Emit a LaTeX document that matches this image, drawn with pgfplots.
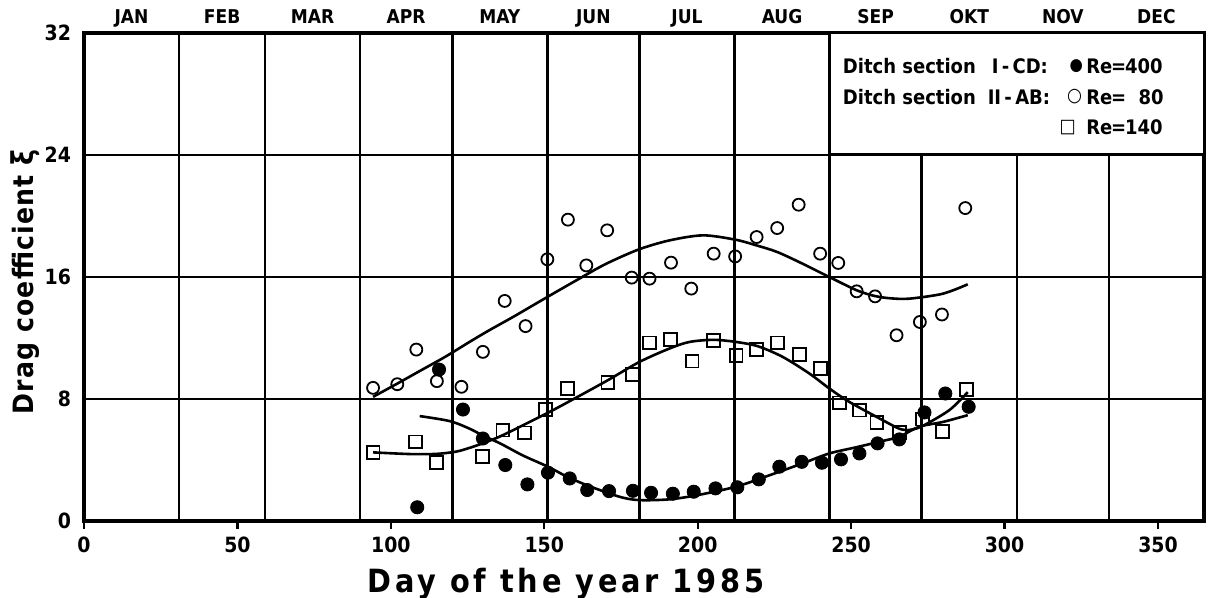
\documentclass[border=0pt]{standalone}
\usepackage{pgfplots}
\usepackage{pgfplotstable}
\pgfplotsset{compat=1.18}
\usepackage{fontspec}
\setmainfont{DejaVu Sans Condensed}[BoldFont={DejaVu Sans Condensed Bold}]

\pgfplotstableread{
x y
108.6 0.9
115.7 9.93
123.5 7.31
130.0 5.41
137.3 3.67
144.5 2.40
151.2 3.17
158.3 2.79
164.0 2.03
171.1 1.96
178.9 1.98
184.8 1.85
191.9 1.79
198.7 1.92
205.8 2.14
212.9 2.21
219.9 2.73
226.6 3.56
233.9 3.88
240.5 3.82
246.7 4.04
252.7 4.43
258.6 5.09
265.7 5.35
273.9 7.12
280.7 8.36
288.3 7.49
}\reA

\pgfplotstableread{
x y
94.2 8.73
102.1 8.97
108.3 11.24
115.0 9.17
123.0 8.80
130.0 11.09
137.1 14.43
143.9 12.78
151.0 17.16
157.7 19.76
163.7 16.76
170.5 19.06
178.5 15.96
184.3 15.89
191.3 16.94
197.9 15.24
205.2 17.53
212.2 17.35
219.2 18.62
225.9 19.21
232.9 20.74
239.9 17.53
245.8 16.92
251.8 15.06
257.8 14.73
264.8 12.18
272.4 13.05
279.6 13.54
287.2 20.52
}\reB

\pgfplotstableread{
x y
94.2 4.50
108.0 5.19
114.8 3.82
129.8 4.21
136.5 5.96
143.6 5.78
150.4 7.31
157.5 8.69
170.7 9.08
178.6 9.60
184.3 11.68
191.1 11.90
198.2 10.48
205.2 11.85
212.5 10.87
219.2 11.24
226.1 11.68
233.1 10.92
240.0 10.00
246.2 7.75
252.7 7.27
258.4 6.45
265.7 5.81
273.3 6.68
279.8 5.85
287.6 8.62
}\reC

\pgfplotstableread{
x y
94.2 8.14
102 9.0
110 9.9
118 10.8
125.7 11.75
132 12.5
140 13.4
151 14.69
161.5 15.9
170 16.85
180.7 17.8
190.8 18.4
201.7 18.73
212.2 18.45
219.2 18.07
225.9 17.64
234.2 16.87
242.9 16.0
251.8 15.13
257.8 14.75
263 14.6
269 14.58
279.8 14.9
288 15.52
}\fitB

\pgfplotstableread{
x y
94.2 4.50
106.2 4.39
114.8 4.40
121.3 4.55
125.7 4.80
130 5.10
136.5 5.63
151.2 7.10
159.3 7.97
170.7 9.23
181 10.43
190.8 11.31
197.3 11.74
205.2 11.88
212.5 11.74
219.6 11.46
227.7 10.76
236.4 9.67
242.9 8.69
249.4 7.81
260.3 6.61
265.7 6.05
268.5 5.96
}\fitCa

\pgfplotstableread{
x y
268.5 5.96
272.8 6.18
282 7.27
288 8.45
}\fitCb

\pgfplotstableread{
x y
109.4 6.88
119.2 6.55
125.7 6.05
130 5.6
135.5 5.1
143 4.3
151.2 3.56
157 2.95
163.7 2.36
174.5 1.59
181 1.37
190.8 1.42
200 1.7
212.5 2.25
222 2.9
234.2 3.78
242.9 4.43
252 4.85
261.4 5.3
265.7 5.52
272.2 6.18
280 6.5
288 6.94
}\fitA

\begin{document}
\begin{tikzpicture}
\begin{axis}[
  scale only axis, width=560pt, height=244pt,
  xmin=0, xmax=365, ymin=0, ymax=32,
  clip=false,
  xtick={0,50,...,350}, ytick={0,8,16,24,32},
  minor xtick={31,59,90,120,151,181,212,243,273,304,334},
  xminorgrids, ymajorgrids,
  minor grid style={black, line width=1.3pt},
  major grid style={black, line width=1.3pt},
  axis line style={black, line width=1.8pt},
  tick align=outside, xtick pos=bottom, ytick pos=left,
  major tick length=4pt, minor tick length=0pt,
  y tick style={draw=none}, x tick style={black, line width=1.2pt},
  /pgf/number format/assume math mode=true,
  ticklabel style={font=\bfseries\fontsize{10.5}{12}\selectfont},
  xticklabel style={yshift=-0.5pt},
  yticklabel style={xshift=1pt},
  xlabel={Day of the year 1985},
  ylabel={Drag coefficient {\fontsize{15}{16}\selectfont ξ}},
  ylabel style={font=\bfseries\fontsize{14}{16}\selectfont\addfontfeature{LetterSpace=4}, yshift=-4.5pt, xshift=-2.5pt},
  xlabel style={font=\bfseries\fontsize{16}{18}\selectfont\addfontfeature{LetterSpace=12}, xshift=-39pt, yshift=-1pt},
]
\addplot[black, line width=1.3pt, smooth] table {\fitB};
\addplot[black, line width=1.3pt, smooth] table {\fitCa};
\addplot[black, line width=1.3pt, smooth] table {\fitCb};
\addplot[black, line width=1.3pt, smooth] table {\fitA};
\addplot[only marks, mark=*, mark size=3.3pt, black, mark options={fill=black}] table {\reA};
\addplot[only marks, mark=o, mark size=3pt, black, line width=0.9pt] table {\reB};
\addplot[only marks, mark=square, mark size=3.2pt, black, line width=0.9pt] table {\reC};
% legend box
\draw[black, line width=1.5pt, fill=white] (axis cs:243,24) rectangle (axis cs:365,32);
\node[anchor=west, inner sep=0pt, font=\bfseries\fontsize{10}{12}\selectfont] at (axis cs:247.2,29.8) {Ditch section};
\node[anchor=west, inner sep=0pt, font=\bfseries\fontsize{10}{12}\selectfont] at (axis cs:295.7,29.8) {I\,-\,CD:};
\node[inner sep=0pt, font=\fontsize{8.5}{12}\selectfont] at (axis cs:323.4,29.8) {●};
\node[anchor=west, inner sep=0pt, font=\bfseries\fontsize{10}{12}\selectfont] at (axis cs:326.5,29.8) {Re\kern-0.6pt=\kern-0.6pt400};
\node[anchor=west, inner sep=0pt, font=\bfseries\fontsize{10}{12}\selectfont] at (axis cs:247.2,27.8) {Ditch section};
\node[anchor=west, inner sep=0pt, font=\bfseries\fontsize{10}{12}\selectfont] at (axis cs:294.4,27.8) {II\,-\,AB:};
\node[inner sep=0pt, font=\bfseries\fontsize{9.5}{12}\selectfont] at (axis cs:322.8,27.8) {○};
\node[anchor=west, inner sep=0pt, font=\bfseries\fontsize{10}{12}\selectfont] at (axis cs:326.5,27.8) {Re\kern-0.6pt=\ \ 80};
\node[inner sep=0pt, font=\bfseries\fontsize{9.5}{12}\selectfont] at (axis cs:320.6,25.8) {□};
\node[anchor=west, inner sep=0pt, font=\bfseries\fontsize{10}{12}\selectfont] at (axis cs:326.5,25.8) {Re\kern-0.6pt=\kern-0.6pt140};
% month labels
\node[anchor=base, font=\bfseries\fontsize{9.5}{11}\selectfont] at (axis cs:15.5,32.6) {JAN};
\node[anchor=base, font=\bfseries\fontsize{9.5}{11}\selectfont] at (axis cs:45,32.6) {FEB};
\node[anchor=base, font=\bfseries\fontsize{9.5}{11}\selectfont] at (axis cs:74.5,32.6) {MAR};
\node[anchor=base, font=\bfseries\fontsize{9.5}{11}\selectfont] at (axis cs:105,32.6) {APR};
\node[anchor=base, font=\bfseries\fontsize{9.5}{11}\selectfont] at (axis cs:135.5,32.6) {MAY};
\node[anchor=base, font=\bfseries\fontsize{9.5}{11}\selectfont] at (axis cs:166,32.6) {JUN};
\node[anchor=base, font=\bfseries\fontsize{9.5}{11}\selectfont] at (axis cs:196.5,32.6) {JUL};
\node[anchor=base, font=\bfseries\fontsize{9.5}{11}\selectfont] at (axis cs:227.5,32.6) {AUG};
\node[anchor=base, font=\bfseries\fontsize{9.5}{11}\selectfont] at (axis cs:258,32.6) {SEP};
\node[anchor=base, font=\bfseries\fontsize{9.5}{11}\selectfont] at (axis cs:288.5,32.6) {OKT};
\node[anchor=base, font=\bfseries\fontsize{9.5}{11}\selectfont] at (axis cs:319,32.6) {NOV};
\node[anchor=base, font=\bfseries\fontsize{9.5}{11}\selectfont] at (axis cs:349.5,32.6) {DEC};
\end{axis}
\pgfresetboundingbox
\path[use as bounding box] ([shift={(-42pt,-38.5pt)}]current axis.south west) rectangle ([shift={(4.5pt,16.5pt)}]current axis.north east);
\end{tikzpicture}
\end{document}
